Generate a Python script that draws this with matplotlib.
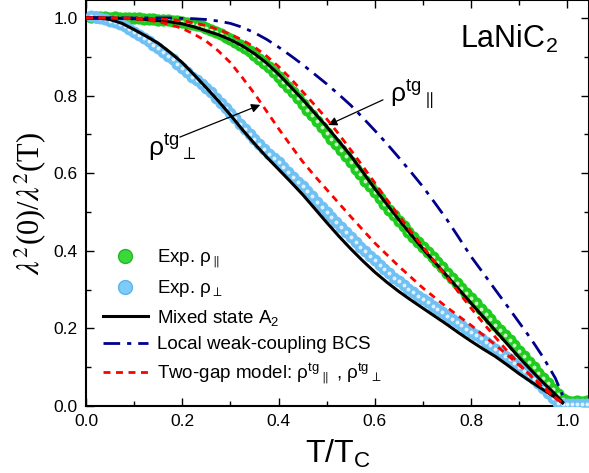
import numpy as np
import matplotlib
matplotlib.use("Agg")
import matplotlib.pyplot as plt
from matplotlib.lines import Line2D

plt.rcParams['font.family'] = ['Liberation Sans', 'DejaVu Sans']
plt.rcParams['mathtext.fontset'] = 'custom'
plt.rcParams['mathtext.rm'] = 'Liberation Sans'
plt.rcParams['mathtext.it'] = 'Liberation Sans:italic'
plt.rcParams['mathtext.bf'] = 'Liberation Sans:bold'

# experimental points, rho_parallel (green)
t_par = [0.01, 0.02, 0.03, 0.04, 0.05, 0.06, 0.07, 0.08, 0.09, 0.10,
         0.11, 0.12, 0.13, 0.14, 0.15, 0.16, 0.17, 0.18, 0.19, 0.20,
         0.21, 0.22, 0.23, 0.24, 0.25, 0.26, 0.27, 0.28, 0.29, 0.30,
         0.31, 0.32, 0.33, 0.34, 0.35, 0.36, 0.37, 0.38, 0.39, 0.40,
         0.41, 0.42, 0.43, 0.44, 0.45, 0.46, 0.47, 0.48, 0.49, 0.50,
         0.51, 0.52, 0.53, 0.54, 0.55, 0.56, 0.57, 0.58, 0.59, 0.60,
         0.61, 0.62, 0.63, 0.64, 0.65, 0.66, 0.67, 0.68, 0.69, 0.70,
         0.71, 0.72, 0.73, 0.74, 0.75, 0.76, 0.77, 0.78, 0.79, 0.80,
         0.81, 0.82, 0.83, 0.84, 0.85, 0.86, 0.87, 0.88, 0.89, 0.90,
         0.91, 0.92, 0.93, 0.94, 0.95, 0.96, 0.97, 0.98, 0.99, 1.00,
         1.01, 1.02, 1.03, 1.04, 1.05]
rho_par = [1.002, 1.003, 1.002, 1.003, 1.001, 1.002, 1.000, 1.001, 1.000, 0.999,
           0.999, 0.998, 0.998, 0.997, 0.996, 0.995, 0.994, 0.993, 0.991, 0.989,
           0.987, 0.984, 0.981, 0.978, 0.974, 0.969, 0.964, 0.958, 0.952, 0.945,
           0.938, 0.930, 0.922, 0.914, 0.905, 0.895, 0.884, 0.873, 0.861, 0.849,
           0.836, 0.822, 0.808, 0.794, 0.779, 0.764, 0.749, 0.734, 0.719, 0.704,
           0.689, 0.674, 0.659, 0.644, 0.628, 0.612, 0.597, 0.581, 0.566, 0.551,
           0.536, 0.521, 0.506, 0.491, 0.477, 0.463, 0.449, 0.435, 0.422, 0.409,
           0.396, 0.383, 0.370, 0.357, 0.344, 0.331, 0.318, 0.305, 0.292, 0.279,
           0.265, 0.251, 0.238, 0.224, 0.210, 0.197, 0.183, 0.170, 0.156, 0.142,
           0.128, 0.114, 0.100, 0.086, 0.072, 0.058, 0.044, 0.030, 0.018, 0.012,
           0.011, 0.012, 0.011, 0.012, 0.011]

# experimental points, rho_perp (light blue)
t_perp = t_par
rho_perp = [1.004, 1.003, 1.000, 0.997, 0.993, 0.989, 0.984, 0.978, 0.971, 0.964,
            0.956, 0.948, 0.940, 0.931, 0.922, 0.913, 0.903, 0.893, 0.882, 0.871,
            0.860, 0.849, 0.840, 0.829, 0.819, 0.808, 0.795, 0.782, 0.768, 0.755,
            0.741, 0.727, 0.713, 0.700, 0.687, 0.675, 0.662, 0.650, 0.638, 0.628,
            0.616, 0.604, 0.591, 0.578, 0.566, 0.553, 0.540, 0.527, 0.514, 0.500,
            0.487, 0.474, 0.461, 0.448, 0.435, 0.423, 0.411, 0.399, 0.387, 0.375,
            0.364, 0.353, 0.342, 0.331, 0.321, 0.311, 0.302, 0.293, 0.284, 0.275,
            0.267, 0.258, 0.250, 0.241, 0.233, 0.225, 0.216, 0.208, 0.199, 0.191,
            0.182, 0.174, 0.165, 0.157, 0.148, 0.139, 0.130, 0.121, 0.111, 0.101,
            0.091, 0.081, 0.070, 0.058, 0.046, 0.033, 0.020, 0.009, 0.005, 0.005,
            0.005, 0.005, 0.005, 0.005, 0.005]

# model curves
t_fit = [0.0, 0.025, 0.05, 0.075, 0.10, 0.125, 0.15, 0.175, 0.20, 0.225,
         0.25, 0.275, 0.30, 0.325, 0.35, 0.375, 0.40, 0.425, 0.45, 0.475,
         0.50, 0.525, 0.55, 0.575, 0.60, 0.625, 0.65, 0.675, 0.70, 0.725,
         0.75, 0.775, 0.80, 0.825, 0.85, 0.875, 0.90, 0.925, 0.95, 0.975, 0.99]
a2_par = [1.0, 1.0, 1.0, 0.999, 0.998, 0.996, 0.993, 0.990, 0.985, 0.977,
          0.967, 0.957, 0.944, 0.928, 0.908, 0.884, 0.855, 0.823, 0.790, 0.755,
          0.720, 0.683, 0.645, 0.603, 0.560, 0.520, 0.480, 0.442, 0.405, 0.370,
          0.335, 0.300, 0.265, 0.230, 0.195, 0.160, 0.125, 0.092, 0.060, 0.030, 0.010]
a2_perp = [1.0, 1.0, 0.996, 0.986, 0.970, 0.953, 0.935, 0.911, 0.885, 0.853,
           0.820, 0.786, 0.750, 0.712, 0.676, 0.642, 0.610, 0.578, 0.545, 0.509,
           0.473, 0.438, 0.405, 0.374, 0.345, 0.319, 0.295, 0.273, 0.252, 0.231,
           0.210, 0.188, 0.167, 0.147, 0.128, 0.106, 0.083, 0.062, 0.042, 0.022, 0.008]
bcs = [1.0, 1.0, 1.0, 1.0, 1.0, 1.0, 1.0, 1.0, 0.999, 0.998,
       0.996, 0.992, 0.986, 0.976, 0.962, 0.945, 0.925, 0.903, 0.880, 0.855,
       0.830, 0.803, 0.775, 0.743, 0.710, 0.676, 0.640, 0.603, 0.565, 0.523,
       0.480, 0.433, 0.385, 0.343, 0.300, 0.258, 0.215, 0.172, 0.125, 0.072, 0.028]
tg_par = [1.0, 1.0, 1.0, 1.0, 1.0, 0.999, 0.998, 0.996, 0.993, 0.987,
          0.980, 0.970, 0.958, 0.943, 0.925, 0.902, 0.875, 0.844, 0.810, 0.776,
          0.740, 0.701, 0.660, 0.618, 0.575, 0.532, 0.490, 0.450, 0.410, 0.371,
          0.332, 0.292, 0.252, 0.214, 0.178, 0.142, 0.108, 0.076, 0.046, 0.020, 0.008]
tg_perp = [1.0, 1.0, 1.0, 0.999, 0.998, 0.995, 0.990, 0.983, 0.973, 0.958,
           0.940, 0.915, 0.885, 0.846, 0.805, 0.760, 0.715, 0.672, 0.630, 0.593,
           0.558, 0.523, 0.488, 0.454, 0.420, 0.390, 0.360, 0.332, 0.304, 0.279,
           0.254, 0.231, 0.208, 0.183, 0.158, 0.132, 0.105, 0.078, 0.050, 0.022, 0.008]

fig = plt.figure(figsize=(5.89, 4.73), dpi=100)
ax = fig.add_axes([86/589, 67/473, 503/589, 405.5/473])

# sphere-like symbols: coloured disc with a pale centre
ax.scatter(t_par, rho_par, s=78, color='#1fcb1f', linewidths=0, zorder=2)
ax.scatter(t_par, rho_par, s=8, color='#c8f5c0', linewidths=0, zorder=2)
ax.scatter(t_perp, rho_perp, s=74, color='#6fc0f3', linewidths=0, zorder=3)
ax.scatter(t_perp, rho_perp, s=8, color='#dff1ff', linewidths=0, zorder=3)

ax.plot(t_fit, a2_par, color='black', lw=2.2, zorder=4)
ax.plot(t_fit, a2_perp, color='black', lw=2.2, zorder=4)
ax.plot(t_fit, bcs, color='#00008b', lw=2.0, ls=(0, (6, 2.5, 1.5, 2.5)), zorder=5)
ax.plot(t_fit, tg_par, color='#ff0000', lw=2.0, ls=(0, (2.5, 2)), zorder=6)
ax.plot(t_fit, tg_perp, color='#ff0000', lw=2.0, ls=(0, (2.5, 2)), zorder=6)

ax.set_xlim(0, 1.045)
ax.set_ylim(0, 1.045)
ax.set_xticks([0.0, 0.2, 0.4, 0.6, 0.8, 1.0])
ax.set_yticks([0.0, 0.2, 0.4, 0.6, 0.8, 1.0])
ax.set_xticks(np.arange(0, 1.05, 0.1), minor=True)
ax.set_yticks(np.arange(0, 1.05, 0.1), minor=True)
ax.tick_params(which='both', direction='in', top=True, right=True, width=1.0, labelsize=12.5, pad=6)
ax.tick_params(which='major', length=6)
ax.tick_params(which='minor', length=3.5)
for sp in ax.spines.values():
    sp.set_linewidth(1.5)

ax.set_xlabel(r'T/T$_\mathregular{C}$', fontsize=23, labelpad=6)
ax.set_ylabel(r'$\lambda^2$(0)/$\lambda^2$(T)', fontsize=22, family='Liberation Serif',
              math_fontfamily='stix', labelpad=4)

ax.text(0.778, 0.923, r'LaNiC$_2$', fontsize=22, ha='left', va='baseline')

# arrows and labels of the two-gap curves
arr = dict(arrowstyle='-|>', color='black', lw=0.9, mutation_scale=13, shrinkA=0, shrinkB=0)
ax.annotate('', xy=(0.362, 0.776), xytext=(0.195, 0.693), arrowprops=arr)
ax.text(0.229, 0.665, r'$\mathrm{\rho}^{\mathrm{tg}}{}_{\perp}$', fontsize=19, ha='right', va='center')
ax.annotate('', xy=(0.503, 0.724), xytext=(0.617, 0.789), arrowprops=arr)
ax.text(0.632, 0.802, r'$\mathrm{\rho}^{\mathrm{tg}}{}_{\parallel}$', fontsize=19, ha='left', va='center')

handles = [
    Line2D([], [], ls='none', marker='o', ms=10, mfc='#3ad83a', mec='#22b822'),
    Line2D([], [], ls='none', marker='o', ms=10, mfc='#7fcbf7', mec='#5ab5ee'),
    Line2D([], [], color='black', lw=2.2),
    Line2D([], [], color='#00008b', lw=2.0, ls=(0, (6, 2.5, 1.5, 2.5))),
    Line2D([], [], color='#ff0000', lw=2.0, ls=(0, (2.5, 2))),
]
labels = [r'Exp. $\mathrm{\rho}_{\parallel}$', r'Exp. $\mathrm{\rho}_{\perp}$', r'Mixed state A$_2$',
          'Local weak-coupling BCS',
          r'Two-gap model: $\mathrm{\rho}^{\mathrm{tg}}{}_{\parallel}$ , $\mathrm{\rho}^{\mathrm{tg}}{}_{\perp}$']
ax.legend(handles, labels, loc='lower left', bbox_to_anchor=(0.018, 0.03), frameon=False,
          fontsize=13.5, handlelength=2.4, handletextpad=0.5, labelspacing=0.45, borderaxespad=0)

fig.savefig('out.png', dpi=100)
